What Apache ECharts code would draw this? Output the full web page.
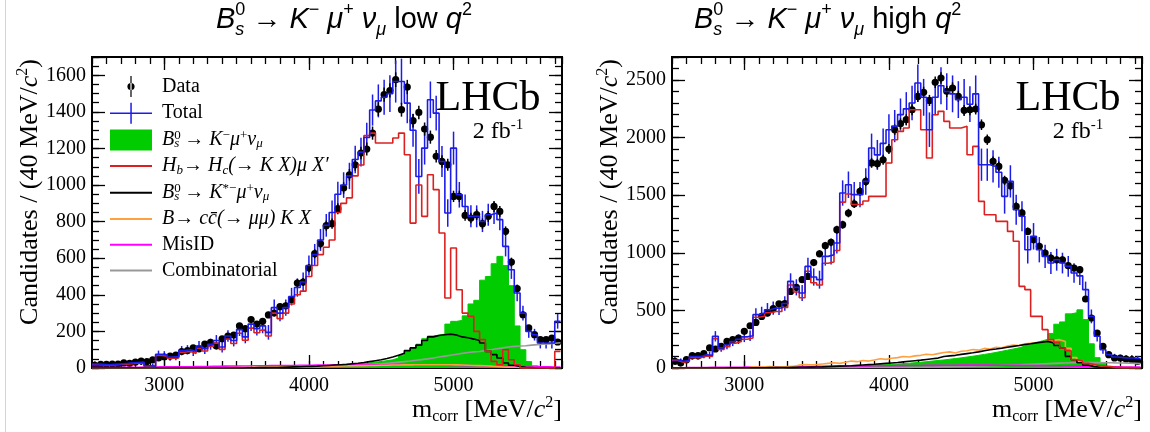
<!DOCTYPE html>
<html>
<head>
<meta charset="utf-8">
<script src="https://cdn.jsdelivr.net/npm/echarts@6/dist/echarts.min.js"></script>
<style>html,body{margin:0;padding:0;background:#fff}#c{width:1150px;height:432px}</style>
</head>
<body>
<div id="c"></div>
<script>
// ---- binning / axes ----
const BIN_START = 2500, BIN_WIDTH = 40;
const X_MIN = 2500, X_MAX = 5750;
const X_LABELS = [3000, 4000, 5000];
const LOW_Y_MAX = 1700, LOW_Y_STEP = 200, LOW_Y_MINOR = 50;
const HIGH_Y_MAX = 2700, HIGH_Y_STEP = 500, HIGH_Y_MINOR = 100;

// ---- low q2 panel ----
const low_data = [15,20,20,22,22,28,25,32,38,35,45,55,60,65,70,90,95,110,105,130,140,120,160,175,180,230,215,265,240,255,290,300,335,
 340,373,464,470,546,625,680,778,789,871,984,1056,1111,1175,1197,1284,1415,1494,1517,1576,1412,1536,1352,1397,1306,1262,1157,1129,1111,938,938,834,820,838,789,829,883,856,747,579,434,291,219,182,155,155,164,142];
const low_dataErr = [4,4,4,5,5,5,5,6,6,6,7,7,8,8,8,9,10,10,10,11,12,11,13,13,13,15,15,16,15,16,17,17,18,
 18,19,22,22,23,25,26,28,28,30,31,32,33,34,35,36,38,39,39,40,38,39,37,37,36,36,34,34,33,31,31,29,29,29,28,29,30,29,27,24,21,17,15,13,12,12,13,12];
const low_total = [22,20,18,20,22,25,28,30,32,12,10,75,72,60,62,95,100,90,120,105,130,150,115,175,150,210,170,240,215,230,195,330,300,
 330,390,440,470,560,620,700,780,850,950,1000,1050,1140,1180,1260,1410,1460,1480,1500,1566,1566,1448,
 1300,1047,1202,1466,1393,1129,847,1202,947,883,829,829,801,838,847,811,665,537,410,300,200,182,137,137,137,255];
const low_totalErr = [15,15,15,15,15,15,15,15,15,15,15,20,20,20,20,25,25,25,28,28,30,30,30,32,32,35,35,38,38,40,40,45,45,
 45,48,50,52,55,58,60,62,65,68,70,72,75,78,80,85,90,95,100,115,125,110,90,95,90,100,95,85,
 75,90,70,65,60,60,58,60,60,58,55,50,45,40,35,32,30,30,30,40];
const low_sig = [0,0,0,0,0,0,0,0,0,0,0,0,0,0,0,0,0,0,0,0,1,1,1,2,2,2,3,3,3,4,4,5,5,6,6,7,8,9,10,11,
 12,13,15,17,19,22,25,28,32,36,40,45,55,70,90,110,130,160,175,180,185,
 240,255,260,285,350,370,480,500,570,610,560,450,230,100,35,12,4,1,0,0];
const low_hb = [18,16,15,17,19,21,24,26,28,9,8,68,65,53,55,86,90,80,108,93,118,136,102,158,134,190,152,218,193,207,175,300,270,
 300,350,400,420,500,560,620,660,700,850,900,930,1050,1110,1270,
 1284,1230,1230,1230,1257,1284,1166,792,1000,829,1056,975,738,383,656,428,300,282,200,155,91,36,18,100,45,18,0,0,0,0,0,0,91];
const low_kstar = [0,0,0,0,0,0,0,0,0,0,0,0,0,0,0,0,0,0,0,0,0,0,0,0,0,0,1,1,2,2,3,3,4,5,6,7,
 8,9,10,12,14,16,18,20,23,26,30,35,40,45,52,60,70,80,95,110,
 125,150,170,178,182,185,180,170,165,158,150,137,91,73,55,27,15,8,4,2,0,0,0,0,0];
const low_ccbar = [0,0,0,0,0,0,0,0,0,0,0,0,0,0,0,0,0,0,0,0,0,1,1,2,2,3,3,4,4,5,5,6,6,7,7,8,8,9,9,10,10,
 11,11,12,12,13,13,14,14,15,15,16,16,17,17,18,18,18,18,18,18,
 18,17,16,15,14,13,12,10,8,6,5,4,3,2,2,1,1,0,0,0];
const low_misid = [2,2,3,3,3,4,4,4,5,5,5,6,6,6,7,7,7,8,8,8,9,9,10,10,10,11,11,12,12,12,13,13,14,14,14,15,15,15,16,16,16,
 17,17,17,17,18,18,18,18,18,18,18,18,18,17,17,17,16,16,15,15,
 14,14,13,13,12,12,11,11,10,10,9,9,8,8,7,7,6,6,5,5];
const low_comb = [0,0,0,0,0,0,0,0,0,0,1,1,1,1,1,1,1,1,1,1,1,1,1,1,2,2,2,2,2,2,2,
 2,3,3,4,5,5,6,7,8,9,10,11,12,13,15,17,19,21,23,26,29,32,35,38,42,46,50,55,60,65,
 70,75,80,85,88,90,95,100,105,110,115,118,120,122,125,128,130,132,135,138];

// ---- high q2 panel ----
const high_data = [58,43,72,107,107,124,174,165,188,231,246,260,318,367,396,448,477,515,558,560,665,700,767,795,915,992,1062,1091,1201,1244,1345,1426,1533,1620,1780,
 1774,1808,1901,2069,2121,2156,2242,2358,2393,2323,2480,2517,2402,2431,2358,2237,2242,2248,2112,1982,1794,1750,1629,1583,1403,1346,1186,1114,1056,998,955,940,940,888,868,854,599,434,304,188,116,87,87,78,72,58];
const high_dataErr = [8,7,8,10,10,11,13,13,14,15,16,16,18,19,20,21,22,23,24,24,26,26,28,28,30,31,33,33,35,35,37,38,39,40,42,
 42,43,44,45,46,46,47,49,49,48,50,50,49,49,49,47,47,47,46,45,42,42,40,40,37,37,34,33,32,32,31,31,31,30,29,29,24,21,17,14,11,9,9,9,8,8];
const high_total = [72,58,65,100,100,115,110,275,175,200,230,250,270,280,
 463,477,506,520,521,560,752,700,651,882,790,767,969,984,1085,1519,1591,1505,1505,1620,1910,
 1850,1950,2069,2100,2200,2250,2300,2474,2350,2069,2350,2450,2400,2380,2330,2350,2290,2380,1765,1765,1750,1700,1490,1620,1374,1317,1027,1143,1027,969,911,940,911,882,825,800,680,448,275,159,116,95,90,87,87,80];
const high_totalErr = [25,25,25,28,28,30,30,45,35,38,40,42,45,45,
 55,55,58,58,60,62,70,70,70,75,75,78,80,85,90,110,115,110,110,115,125,
 130,130,135,140,140,145,150,160,160,150,155,160,160,160,160,160,155,160,
 140,140,140,135,150,140,130,130,120,115,110,100,95,95,90,90,85,80,70,60,45,35,30,28,26,25,25,25];
const high_sig = [0,0,0,0,0,0,0,1,1,1,1,1,2,2,2,2,3,3,3,4,4,
 5,5,6,7,8,9,10,11,12,14,16,18,20,22,25,28,31,34,38,42,
 46,50,55,60,65,70,76,82,88,95,102,110,118,126,135,145,155,165,175,190,
 205,220,235,250,300,380,400,470,480,505,420,210,90,40,15,6,2,1,0,0];
const high_hb = [65,50,58,90,90,105,100,255,160,185,215,230,250,260,440,450,480,490,490,525,720,660,610,840,740,720,910,920,1020,1440,1510,1420,1420,1450,1490,
 1490,1490,1780,1982,2054,2083,2242,2242,2069,1823,2199,2228,2141,2083,2083,2098,1852,1924,1447,1331,1331,1273,1273,1186,1100,709,680,448,448,333,246,220,174,150,72,60,40,30,20,15,10,5,3,3,2,2];
const high_kstar = [0,0,0,0,0,0,0,0,0,1,1,1,1,2,2,2,3,3,4,4,5,6,7,8,9,10,
 12,14,16,18,20,23,26,29,32,36,40,44,48,53,58,63,68,74,80,86,
 100,105,110,118,125,132,140,150,159,165,172,180,188,195,203,210,218,225,231,217,
 195,174,101,72,45,25,12,6,3,1,0,0,0,0,0];
const high_ccbar = [0,0,0,0,0,0,0,0,0,0,0,0,0,10,8,10,12,8,10,12,10,
 25,30,28,30,35,40,45,40,50,60,55,65,60,70,80,75,85,90,100,95,
 105,110,120,115,125,135,140,130,145,150,160,155,170,165,180,175,190,200,195,210,215,
 220,225,235,240,246,230,170,90,60,35,20,10,5,2,1,0,0,0,0];
const high_misid = [2,2,3,3,4,4,5,5,6,6,7,7,8,8,9,9,10,10,11,11,12,
 12,13,13,14,14,15,15,16,16,17,17,18,18,19,19,20,20,21,21,22,22,22,23,23,23,24,24,24,25,25,
 25,25,25,25,24,24,24,23,23,22,22,21,21,20,20,19,18,17,16,15,14,13,12,11,10,10,9,9,8,8];
const high_comb = [0,0,0,0,0,0,0,0,0,0,1,1,1,1,1,1,1,1,1,2,2,2,2,2,2,2,3,3,3,3,3,3,4,4,4,4,4,5,5,5,5,
 6,7,8,9,10,11,12,13,14,15,16,17,18,19,20,22,24,26,28,30,
 32,34,36,38,40,42,44,45,46,46,47,47,47,46,45,44,43,42,40,38];

// ---- styling ----
const SERIF = '"Liberation Serif", "DejaVu Serif", serif';
const SANS = '"Liberation Sans", Arial, sans-serif';
const GREEN = '#00cc00', RED = '#dc2020', BLUE = '#1c1ce8', BLACK = '#000000',
      ORANGE = '#ffa040', MAGENTA = '#ff00ff', GRAY = '#999999';

function makeRich(fam, size, small, lh) {
  const base = {fontFamily: fam, color: '#000', fill: '#000'};
  const slh = Math.round(lh * 0.55);
  return {
    n:    Object.assign({}, base, {fontSize: size, lineHeight: lh}),
    i:    Object.assign({}, base, {fontSize: size, lineHeight: lh, fontStyle: 'italic'}),
    sup:  Object.assign({}, base, {fontSize: small, lineHeight: slh, verticalAlign: 'top'}),
    supi: Object.assign({}, base, {fontSize: small, lineHeight: slh, verticalAlign: 'top', fontStyle: 'italic'}),
    sup0: Object.assign({}, base, {fontSize: small, lineHeight: slh, verticalAlign: 'top', width: 0, align: 'left'}),
    sub:  Object.assign({}, base, {fontSize: small, lineHeight: slh, verticalAlign: 'bottom', fontStyle: 'italic'}),
    subn: Object.assign({}, base, {fontSize: small, lineHeight: slh, verticalAlign: 'bottom'})
  };
}

const LEGEND_TEXT = {
  'Data': '{n|Data}',
  'Total': '{n|Total}',
  'sig': '{i|B}{sup0|0}{sub|s}{n| → }{i|K}{sup|−}{i|μ}{sup|+}{i|ν}{sub|μ}',
  'hb': '{i|H}{sub|b}{n|→ }{i|H}{sub|c}{i|(→ K X)μ X′}',
  'kstar': '{i|B}{sup0|0}{sub|s}{n| → }{i|K}{sup|*−}{i|μ}{sup|+}{i|ν}{sub|μ}',
  'ccbar': '{i|B}{n|→ }{i|c}{i|c̄}{i|(→ μμ) K X}',
  'MisID': '{n|MisID}',
  'Comb': '{n|Combinatorial}'
};

function edges(vals) {
  const out = vals.map((v, k) => [BIN_START + BIN_WIDTH * k, v]);
  out.push([BIN_START + BIN_WIDTH * vals.length, vals[vals.length - 1]]);
  return out;
}
function centers(vals, errs) {
  return vals.map((v, k) => [BIN_START + BIN_WIDTH * (k + 0.5), v, errs[k]]);
}
function errBar(color, dot) {
  return function (params, api) {
    const x = api.value(0), y = api.value(1), e = api.value(2);
    const c = api.coord([x, y]);
    const t = api.coord([x, y + e]);
    const b = api.coord([x, Math.max(0, y - e)]);
    const ch = [{type: 'line', shape: {x1: c[0], y1: t[1], x2: c[0], y2: b[1]},
                 style: {stroke: color, lineWidth: 1.5}}];
    if (dot) ch.push({type: 'circle', shape: {cx: c[0], cy: c[1], r: 3.6}, style: {fill: color}});
    return {type: 'group', children: ch};
  };
}

const GRID_LEFTS = [92, 672];
const GRID_W = 470, GRID_TOP = 57, GRID_H = 311;
const grids = GRID_LEFTS.map(l => ({left: l, top: GRID_TOP, width: GRID_W, height: GRID_H, show: true,
  borderColor: '#000', borderWidth: 2, backgroundColor: 'transparent', containLabel: false, outerBoundsMode: 'none'}));

const tickLine = {color: '#000', width: 1.3};
const axisLineSt = {show: true, onZero: false, lineStyle: {color: '#000', width: 2}};
const X_TITLE = '{n|m}{subn|corr}{n| [MeV/}{i|c}{sup|2}{n|]}';
const Y_TITLE = '{n|Candidates / (40 MeV/}{i|c}{sup|2}{n|)}';

const xAxes = [], yAxes = [];
[0, 1].forEach(g => {
  const base = {gridIndex: g, type: 'value', min: X_MIN, max: X_MAX, splitLine: {show: false}};
  xAxes.push(Object.assign({}, base, {position: 'bottom', axisLine: axisLineSt,
    axisTick: {show: true, inside: true, length: 13, customValues: X_LABELS, lineStyle: tickLine},
    axisLabel: {show: true, customValues: X_LABELS, color: '#000', fontFamily: SERIF, fontSize: 20, margin: 8,
      formatter: v => String(v)}}));
  xAxes.push(Object.assign({}, base, {position: 'top', axisLine: axisLineSt,
    axisTick: {show: true, inside: true, length: 13, customValues: X_LABELS, lineStyle: tickLine},
    axisLabel: {show: false}}));
  xAxes.push(Object.assign({}, base, {position: 'bottom', interval: 100, axisLine: {show: false, onZero: false},
    axisTick: {show: true, inside: true, length: 7, lineStyle: tickLine}, axisLabel: {show: false}}));
  xAxes.push(Object.assign({}, base, {position: 'top', interval: 100, axisLine: {show: false, onZero: false},
    axisTick: {show: true, inside: true, length: 7, lineStyle: tickLine}, axisLabel: {show: false}}));

  const ymax = g === 0 ? LOW_Y_MAX : HIGH_Y_MAX;
  const ystep = g === 0 ? LOW_Y_STEP : HIGH_Y_STEP;
  const yminor = g === 0 ? LOW_Y_MINOR : HIGH_Y_MINOR;
  const yb = {gridIndex: g, type: 'value', min: 0, max: ymax, splitLine: {show: false}};
  yAxes.push(Object.assign({}, yb, {position: 'left', interval: ystep, axisLine: axisLineSt,
    axisTick: {show: true, inside: true, length: 13, lineStyle: tickLine},
    axisLabel: {show: true, color: '#000', fontFamily: SERIF, fontSize: 20, margin: 6,
      formatter: v => (v % ystep === 0 ? String(v) : '')}}));
  yAxes.push(Object.assign({}, yb, {position: 'right', interval: ystep, axisLine: axisLineSt,
    axisTick: {show: true, inside: true, length: 13, lineStyle: tickLine}, axisLabel: {show: false}}));
  yAxes.push(Object.assign({}, yb, {position: 'left', interval: yminor, axisLine: {show: false, onZero: false},
    axisTick: {show: true, inside: true, length: 7, lineStyle: tickLine}, axisLabel: {show: false}}));
  yAxes.push(Object.assign({}, yb, {position: 'right', interval: yminor, axisLine: {show: false, onZero: false},
    axisTick: {show: true, inside: true, length: 7, lineStyle: tickLine}, axisLabel: {show: false}}));
});

const series = [];
function addPanel(g, d) {
  const ax = g * 4;
  const line = (name, vals, color, extra) => Object.assign({
    type: 'line', name: name, xAxisIndex: ax, yAxisIndex: ax, step: 'end', symbol: 'none', showSymbol: false,
    data: edges(vals), lineStyle: {color: color, width: 1.6}, itemStyle: {color: color},
    animation: false, silent: true, emphasis: {disabled: true}
  }, extra || {});
  series.push(line('sig', d.sig, GREEN, {areaStyle: {color: GREEN, opacity: 1}, lineStyle: {color: GREEN, width: 1}}));
  series.push(line('Comb', d.comb, GRAY));
  series.push(line('MisID', d.misid, MAGENTA));
  series.push(line('ccbar', d.ccbar, ORANGE));
  series.push(line('kstar', d.kstar, BLACK));
  series.push(line('hb', d.hb, RED));
  series.push(line('Total', d.total, BLUE));
  series.push({type: 'custom', name: 'Total', xAxisIndex: ax, yAxisIndex: ax, coordinateSystem: 'cartesian2d',
    data: centers(d.total, d.totalErr), encode: {x: 0, y: 1}, renderItem: errBar(BLUE, false),
    itemStyle: {color: BLUE}, animation: false, silent: true, clip: true});
  series.push({type: 'custom', name: 'Data', xAxisIndex: ax, yAxisIndex: ax, coordinateSystem: 'cartesian2d',
    data: centers(d.data, d.dataErr), encode: {x: 0, y: 1}, renderItem: errBar(BLACK, true),
    itemStyle: {color: BLACK}, animation: false, silent: true, clip: true});
}
addPanel(0, {data: low_data, dataErr: low_dataErr, total: low_total, totalErr: low_totalErr, sig: low_sig,
  hb: low_hb, kstar: low_kstar, ccbar: low_ccbar, misid: low_misid, comb: low_comb});
addPanel(1, {data: high_data, dataErr: high_dataErr, total: high_total, totalErr: high_totalErr, sig: high_sig,
  hb: high_hb, kstar: high_kstar, ccbar: high_ccbar, misid: high_misid, comb: high_comb});

const LINE_ICON = 'path://M0,0 h42 v2 h-42 Z';
const legendRich = makeRich(SERIF, 20, 13, 21);
const axisTitleRich = makeRich(SERIF, 26, 16, 30);
const titleRich = makeRich(SANS, 29, 18, 38);
const tagRich = makeRich(SERIF, 24, 15, 28);
const TITLE_LOW = '{i|B}{sup0|0}{sub|s}{n| → }{i|K}{sup|−}{n| }{i|μ}{sup|+}{n| }{i|ν}{sub|μ}{n| low }{i|q}{sup|2}';
const TITLE_HIGH = '{i|B}{sup0|0}{sub|s}{n| → }{i|K}{sup|−}{n| }{i|μ}{sup|+}{n| }{i|ν}{sub|μ}{n| high }{i|q}{sup|2}';

const graphics = [
  {type: 'line', shape: {x1: 5.5, y1: 0, x2: 5.5, y2: 432}, style: {stroke: '#d4d4d4', lineWidth: 1}, silent: true},
  {type: 'text', x: 216, y: 20, silent: true,
   style: {text: TITLE_LOW, rich: titleRich, fontFamily: SANS, fontSize: 29, fill: '#000', align: 'left', verticalAlign: 'middle'}},
  {type: 'text', x: 694, y: 20, silent: true,
   style: {text: TITLE_HIGH, rich: titleRich, fontFamily: SANS, fontSize: 29, fill: '#000', align: 'left', verticalAlign: 'middle'}}
];
GRID_LEFTS.forEach((l, g) => {
  const r = l + GRID_W;
  graphics.push({type: 'text', x: r, y: 410, silent: true,
    style: {text: X_TITLE, rich: axisTitleRich, fontFamily: SERIF, fontSize: 26, fill: '#000', align: 'right', verticalAlign: 'middle'}});
  graphics.push({type: 'text', x: l - 62, y: 192, rotation: Math.PI / 2, silent: true,
    style: {text: Y_TITLE, rich: axisTitleRich, fontFamily: SERIF, fontSize: 26, fill: '#000', align: 'center', verticalAlign: 'middle'}});
  graphics.push({type: 'text', x: l + 396, y: 99, silent: true,
    style: {text: 'LHCb', fontFamily: SERIF, fontSize: 42, fill: '#000', align: 'center', verticalAlign: 'middle'}});
  graphics.push({type: 'text', x: l + 406, y: 132, silent: true,
    style: {text: '{n|2 fb}{sup|-1}', rich: tagRich, fontFamily: SERIF, fontSize: 24, fill: '#000', align: 'center', verticalAlign: 'middle'}});
});

const option = {
  backgroundColor: '#fff',
  animation: false,
  grid: grids,
  xAxis: xAxes,
  yAxis: yAxes,
  legend: {
    left: 105, top: 71, orient: 'vertical', itemWidth: 42, itemHeight: 21, itemGap: 5.7,
    selectedMode: false, itemStyle: {borderWidth: 0}, lineStyle: {width: 0},
    textStyle: {fontFamily: SERIF, fontSize: 20, color: '#000', padding: [0, 0, 0, 5], rich: legendRich},
    formatter: n => LEGEND_TEXT[n] || n,
    data: [
      {name: 'Data', icon: 'path://M20.4,0 h1.2 v21 h-1.2 Z M17.4,10.5 a3.6,3.6 0 1,0 7.2,0 a3.6,3.6 0 1,0 -7.2,0 Z'},
      {name: 'Total', icon: 'path://M0,9.8 h42 v1.5 h-42 Z M20.3,0 h1.5 v21 h-1.5 Z'},
      {name: 'sig', icon: 'rect'},
      {name: 'hb', icon: LINE_ICON},
      {name: 'kstar', icon: LINE_ICON},
      {name: 'ccbar', icon: LINE_ICON},
      {name: 'MisID', icon: LINE_ICON},
      {name: 'Comb', icon: LINE_ICON}
    ]
  },
  graphic: graphics,
  series: series
};

const chart = echarts.init(document.getElementById('c'), null, {renderer: 'canvas'});
chart.setOption(option);
</script>
</body>
</html>
